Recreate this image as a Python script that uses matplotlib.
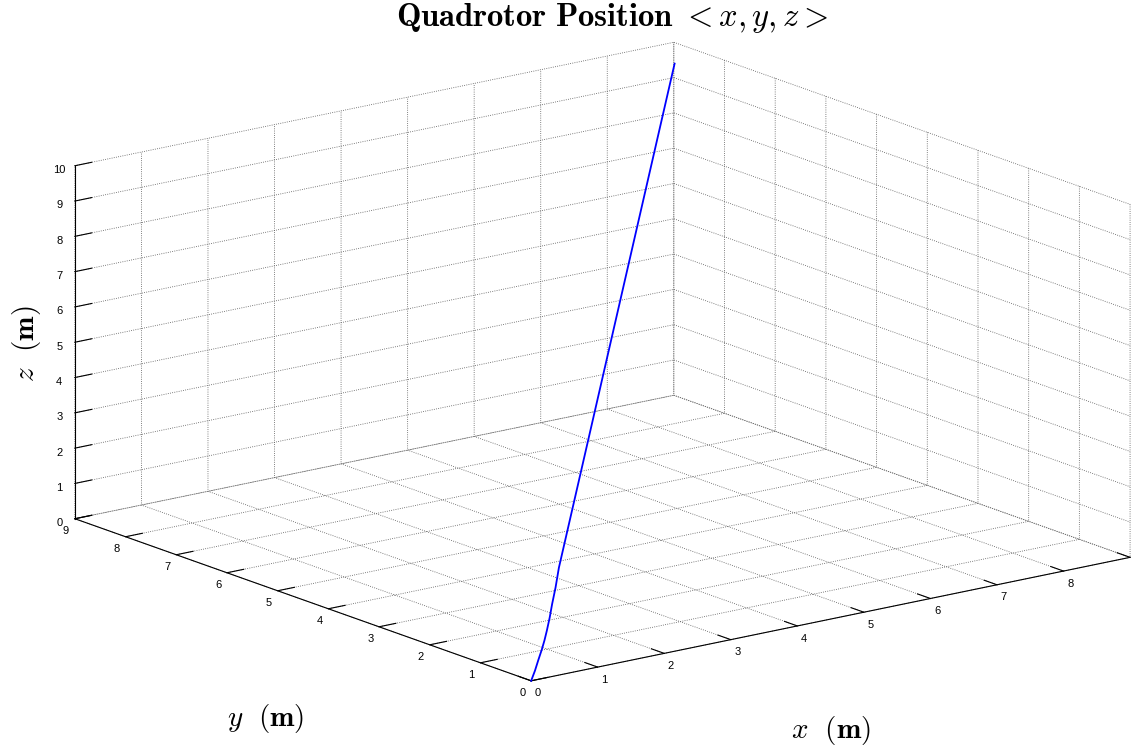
import numpy as np
import matplotlib
matplotlib.use("Agg")
import matplotlib.pyplot as plt

plt.rcParams['mathtext.fontset'] = 'cm'
plt.rcParams['font.family'] = ['Liberation Sans', 'DejaVu Sans']
plt.rcParams['grid.linestyle'] = ':'
plt.rcParams['grid.color'] = '#555555'
plt.rcParams['grid.linewidth'] = 0.6

# quadrotor trajectory (x = y along the climb)
pos_xy = [0.0, 0.24, 0.45, 0.67, 0.84, 0.99, 1.17, 1.32, 1.54, 1.75, 9.05]
pos_z = [0.0, 0.07, 0.18, 0.28, 0.39, 0.53, 0.74, 0.98, 1.26, 1.63, 9.35]

x_ticks = list(range(0, 10))
x_ticklabels = [str(v) for v in range(0, 9)] + ['']  # 9 falls off the page
y_ticks = list(range(0, 10))
z_ticks = list(range(0, 11))

fig = plt.figure(figsize=(11.48, 7.48), dpi=100)
ax = fig.add_axes([0.0413, 0.0206, 0.95, 0.966], projection='3d', proj_type='ortho')
ax.view_init(elev=15.7, azim=-127.3)
ax.set_box_aspect((1, 1, 0.487), zoom=1.513)

ax.plot(pos_xy, pos_xy, pos_z, color='#0000ff', linewidth=1.3)

ax.set_xlim(0, 9)
ax.set_ylim(0, 9)
ax.set_zlim(0, 10)
ax.set_xticks(x_ticks)
ax.set_xticklabels(x_ticklabels)
ax.set_yticks(y_ticks)
ax.set_zticks(z_ticks)

for axis in (ax.xaxis, ax.yaxis, ax.zaxis):
    axis.set_pane_color((1, 1, 1, 0))
    axis.pane.set_edgecolor('none')
    axis.line.set_color('black')
    axis.line.set_linewidth(0.8)
    axis._axinfo['grid'].update({'linestyle': ':', 'color': '#555555', 'linewidth': 0.6})
    axis._axinfo['tick'].update({'inward_factor': 0.0, 'outward_factor': 0.35})
    axis.set_tick_params(labelsize=8, pad=-4)

fig.text(0.533, 0.976, r'$\mathbf{Quadrotor\ Position}\ <x,y,z>$',
         ha='center', va='center', fontsize=23.5)
fig.text(0.724, 0.024, r'$x\ \ \mathbf{(m)}$', ha='center', va='center', fontsize=21)
fig.text(0.231, 0.039, r'$y\ \ \mathbf{(m)}$', ha='center', va='center', fontsize=21)
fig.text(0.023, 0.541, r'$z\ \ \mathbf{(m)}$', ha='center', va='center', fontsize=21,
         rotation=90)

fig.savefig('out.png', dpi=100)
